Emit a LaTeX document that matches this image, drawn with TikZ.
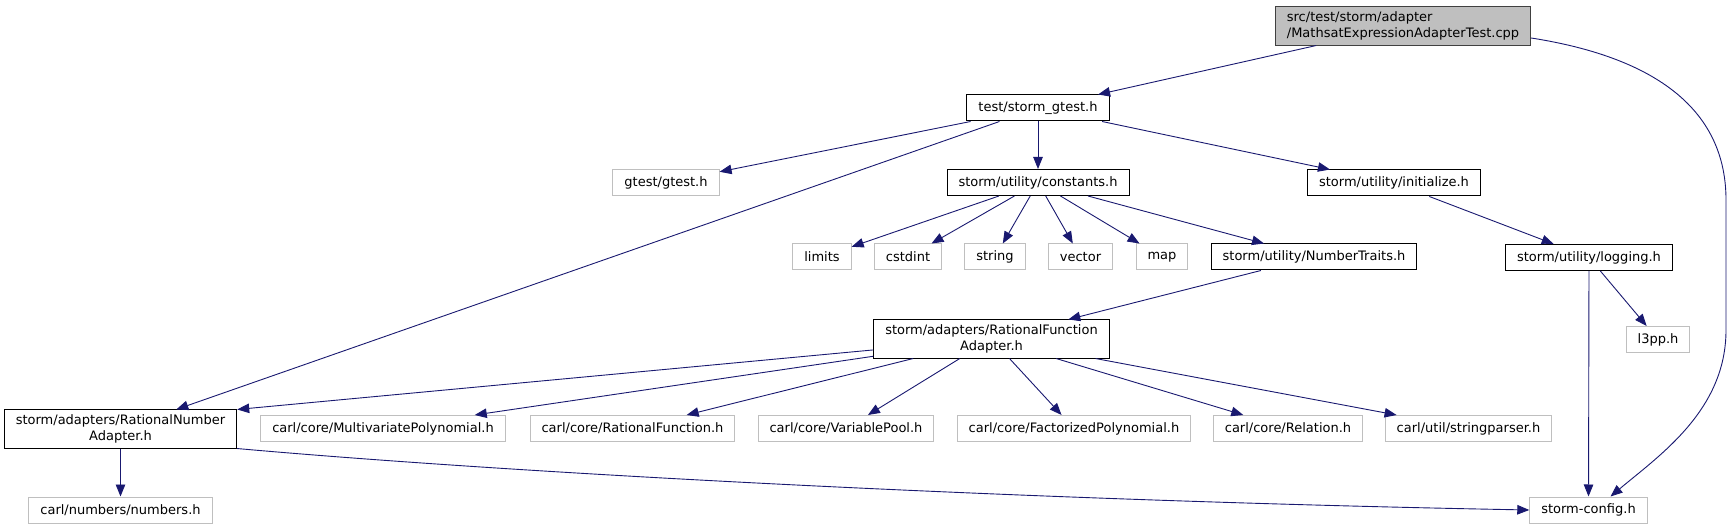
\documentclass[tikz,border=0pt]{standalone}
\usepackage{fontspec}
\setmainfont{DejaVu Sans}
\usepackage{xcolor}
\usetikzlibrary{arrows.meta}

\definecolor{edgeblue}{HTML}{191970}
\definecolor{rootgray}{HTML}{BFBFBF}
\definecolor{sysgray}{HTML}{BFBFBF}

\begin{document}
\begin{tikzpicture}[
    x=1pt, y=1pt,
    file/.style={draw=black, line width=1pt, fill=white, minimum height=26pt, inner xsep=11.5pt, inner ysep=5pt, align=center, font=\fontsize{13}{15.5}\selectfont},
    sysfile/.style={file, draw=sysgray},
    rootfile/.style={file, fill=rootgray, draw=black!75, align=left},
    dep/.style={-{Triangle[length=12pt, width=9.5pt]}, draw=edgeblue, line width=0.9pt}
]
\useasboundingbox (0,0) rectangle (1733,-529);

% Test file
\node[rootfile] (root) at (1403,-26) {src/test/storm/adapter\\/MathsatExpressionAdapterTest.cpp};

% First level
\node[file] (gtest) at (1038,-108) {test/storm\_gtest.h};
\node[sysfile] (gtestlib) at (666,-182.5) {gtest/gtest.h};
\node[file] (constants) at (1038,-182.5) {storm/utility/constants.h};
\node[file] (initialize) at (1394,-183) {storm/utility/initialize.h};

% Utility headers
\node[sysfile] (limits) at (822,-257) {limits};
\node[sysfile] (cstdint) at (908,-257) {cstdint};
\node[sysfile] (string) at (995,-257) {string};
\node[sysfile] (vector) at (1080.5,-257) {vector};
\node[sysfile] (map) at (1162,-257) {map};
\node[file] (numtraits) at (1314,-257) {storm/utility/NumberTraits.h};
\node[file] (logging) at (1589,-257.5) {storm/utility/logging.h};

% Adapters
\node[file] (rfadapter) at (991.5,-339) {storm/adapters/RationalFunction\\Adapter.h};
\node[sysfile] (l3pp) at (1658,-339.5) {l3pp.h};
\node[file] (rnadapter) at (120.5,-429) {storm/adapters/RationalNumber\\Adapter.h};

% carl headers
\node[sysfile] (multipoly) at (383,-428.5) {carl/core/MultivariatePolynomial.h};
\node[sysfile] (ratfunc) at (632.5,-428.5) {carl/core/RationalFunction.h};
\node[sysfile] (varpool) at (846,-428.5) {carl/core/VariablePool.h};
\node[sysfile] (factpoly) at (1074,-428.5) {carl/core/FactorizedPolynomial.h};
\node[sysfile] (relation) at (1288,-428.5) {carl/core/Relation.h};
\node[sysfile] (strparser) at (1468.5,-428.5) {carl/util/stringparser.h};

% Bottom
\node[sysfile] (numbers) at (120.5,-510) {carl/numbers/numbers.h};
\node[sysfile] (config) at (1588.5,-510) {storm-config.h};

% Arrows
\draw[dep] (root) -- (gtest);
\draw[dep] ([yshift=-12pt]root.east) .. controls (1640,-55) and (1726,-100) .. (1726,-200)
    -- (1726,-330) .. controls (1726,-410) and (1660,-455) .. ([xshift=22pt]config.north);
\draw[dep] (gtest) -- (gtestlib);
\draw[dep] (gtest) -- (constants);
\draw[dep] (gtest) -- (initialize);
\draw[dep] (gtest) -- (rnadapter);
\draw[dep] (constants) -- (limits);
\draw[dep] (constants) -- (cstdint);
\draw[dep] (constants) -- (string);
\draw[dep] (constants) -- (vector);
\draw[dep] (constants) -- (map);
\draw[dep] (constants) -- (numtraits);
\draw[dep] (initialize) -- (logging);
\draw[dep] (logging) -- (config);
\draw[dep] (logging) -- (l3pp);
\draw[dep] (numtraits) -- (rfadapter);
\draw[dep] (rfadapter) -- (rnadapter.north east);
\draw[dep] (rfadapter) -- (multipoly);
\draw[dep] (rfadapter) -- (ratfunc);
\draw[dep] (rfadapter) -- (varpool);
\draw[dep] (rfadapter) -- (factpoly);
\draw[dep] (rfadapter) -- (relation);
\draw[dep] (rfadapter) -- (strparser);
\draw[dep] (rnadapter) -- (numbers);
\draw[dep] (rnadapter.south east) .. controls (500,-472) and (1000,-500) .. (config.west);

\end{tikzpicture}
\end{document}
